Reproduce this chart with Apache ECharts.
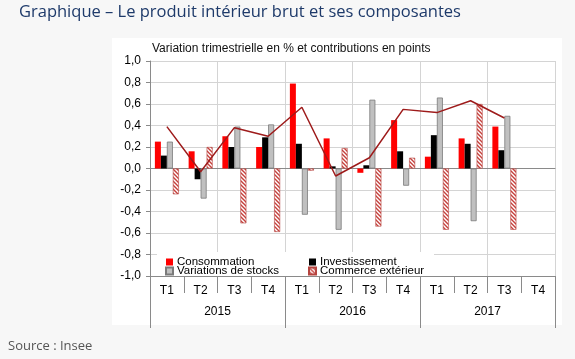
<!DOCTYPE html>
<html><head><meta charset="utf-8">
<script src="https://cdn.jsdelivr.net/npm/echarts@6/dist/echarts.min.js"></script>
<style>html,body{margin:0;padding:0;background:#f7f7f7;}#c{width:575px;height:359px;}</style>
</head><body><div id="c"></div>
<script>
const quarters = ['T1','T2','T3','T4','T1','T2','T3','T4','T1','T2','T3','T4'];
const years = ['2015','2016','2017'];
const consommation = [0.25, 0.16, 0.30, 0.20, 0.79, 0.28, -0.04, 0.45, 0.11, 0.28, 0.39, null];
const investissement = [0.12, -0.10, 0.20, 0.29, 0.23, 0.02, 0.03, 0.16, 0.31, 0.23, 0.17, null];
const stocks = [0.25, -0.28, 0.39, 0.41, -0.43, -0.57, 0.64, -0.16, 0.66, -0.49, 0.49, null];
const commerce = [-0.24, 0.20, -0.51, -0.59, -0.02, 0.19, -0.54, 0.10, -0.57, 0.60, -0.57, null];
const pib = [0.39, -0.03, 0.38, 0.30, 0.57, -0.07, 0.10, 0.55, 0.52, 0.63, 0.47, null];
const yTicks = {min: -1, max: 1, interval: 0.2};

function makeHatch(){
  const c = document.createElement('canvas'); c.width = 4; c.height = 4;
  const ctx = c.getContext('2d');
  ctx.fillStyle = '#ffffff'; ctx.fillRect(0,0,4,4);
  ctx.strokeStyle = '#c6403c'; ctx.lineWidth = 1.4;
  ctx.beginPath();
  ctx.moveTo(-1,-1); ctx.lineTo(5,5);
  ctx.moveTo(3,-1); ctx.lineTo(5,1);
  ctx.moveTo(-1,3); ctx.lineTo(1,5);
  ctx.stroke();
  return c;
}
const hatch = {image: makeHatch(), repeat: 'repeat'};
const FONT = '"Liberation Sans", Arial, sans-serif';
const chart = echarts.init(document.getElementById('c'), null, {renderer: 'canvas'});
const pibData = pib.map((v,i) => i === 4 ? {value: v, label: {show: true, formatter: 'PIB', position: 'top', offset: [16, -4], color: '#9e1b1b', fontWeight: 'bold', fontSize: 12, fontFamily: FONT}} : v);
const barBase = {type: 'bar', xAxisIndex: 0, yAxisIndex: 0, barWidth: 6, barGap: '0%'};
const legendBase = {orient: 'vertical', itemGap: -3, itemWidth: 7, itemHeight: 7, padding: 0, z: 5, icon: 'rect',
  textStyle: {fontFamily: FONT, fontSize: 11.5, color: '#000', padding: [0,0,0,-1], lineHeight: 10}};
chart.setOption({
  animation: false,
  backgroundColor: '#f7f7f7',
  title: [
    {text: 'Graphique – Le produit intérieur brut et ses composantes', left: 19, top: 4, padding: 0,
     textStyle: {fontFamily: '"Open Sans", sans-serif', fontSize: 16.5, fontWeight: 'normal', color: '#1e3a6a'}},
    {text: 'Variation trimestrielle en % et contributions en points', left: 152, top: 43, padding: 0,
     textStyle: {fontFamily: FONT, fontSize: 12, fontWeight: 'normal', color: '#111'}},
    {text: 'Source : Insee', left: 8, top: 340, padding: 0,
     textStyle: {fontFamily: '"Open Sans", sans-serif', fontSize: 13, fontWeight: 'normal', color: '#555'}}
  ],
  graphic: [
    {type: 'rect', shape: {x: 112, y: 38, width: 450, height: 287}, style: {fill: '#ffffff'}, z: -10, silent: true},
    {type: 'rect', shape: {x: 157, y: 252, width: 277, height: 24}, style: {fill: '#ffffff'}, z: 3, silent: true}
  ],
  legend: [
    Object.assign({}, legendBase, {left: 165, top: 256, data: ['Consommation', 'Variations de stocks']}),
    Object.assign({}, legendBase, {left: 308, top: 256, data: ['Investissement', 'Commerce extérieur']})
  ],
  grid: {left: 150, top: 61, right: 20, bottom: 83, containLabel: false},
  xAxis: [
    {type: 'category', data: quarters, position: 'bottom',
     axisLine: {onZero: true, lineStyle: {color: '#8a8a8a', width: 1}},
     axisTick: {show: false}, axisLabel: {show: false},
     splitLine: {show: true, interval: 1, lineStyle: {color: '#d4d4d4', width: 1}}},
    {type: 'category', data: quarters, position: 'bottom',
     axisLine: {onZero: false, lineStyle: {color: '#8a8a8a'}},
     axisTick: {show: true, interval: 0, length: 17, lineStyle: {color: '#8a8a8a'}},
     axisLabel: {interval: 0, margin: 9, fontFamily: FONT, fontSize: 12, color: '#000'},
     splitLine: {show: false}},
    {type: 'category', data: years, position: 'bottom',
     axisLine: {show: false, onZero: false},
     axisTick: {show: true, interval: 0, length: 52, lineStyle: {color: '#8a8a8a'}},
     axisLabel: {interval: 0, margin: 30, fontFamily: FONT, fontSize: 12, color: '#000'},
     splitLine: {show: false}}
  ],
  yAxis: {type: 'value', min: yTicks.min, max: yTicks.max, interval: yTicks.interval,
    axisLine: {show: true, lineStyle: {color: '#8a8a8a'}},
    axisTick: {show: true, length: 4, lineStyle: {color: '#8a8a8a'}},
    axisLabel: {margin: 9, fontFamily: FONT, fontSize: 12, color: '#000',
      formatter: v => v.toFixed(1).replace('.', ',')},
    splitLine: {show: true, lineStyle: {color: '#d4d4d4'}}},
  series: [
    Object.assign({}, barBase, {name: 'Consommation', data: consommation, itemStyle: {color: '#ff0000'}}),
    Object.assign({}, barBase, {name: 'Investissement', data: investissement, itemStyle: {color: '#000000'}}),
    Object.assign({}, barBase, {name: 'Variations de stocks', data: stocks, itemStyle: {color: '#c0c0c0', borderColor: '#7a7a7a', borderWidth: 0.8}}),
    Object.assign({}, barBase, {name: 'Commerce extérieur', data: commerce, itemStyle: {color: hatch, borderColor: '#b5443f', borderWidth: 0.6}}),
    {type: 'line', name: 'PIB', data: pibData, xAxisIndex: 0, yAxisIndex: 0, symbol: 'none', z: 4,
     lineStyle: {color: '#9e1b1b', width: 1.5}, itemStyle: {color: '#9e1b1b'}, connectNulls: false}
  ]
});
</script></body></html>
